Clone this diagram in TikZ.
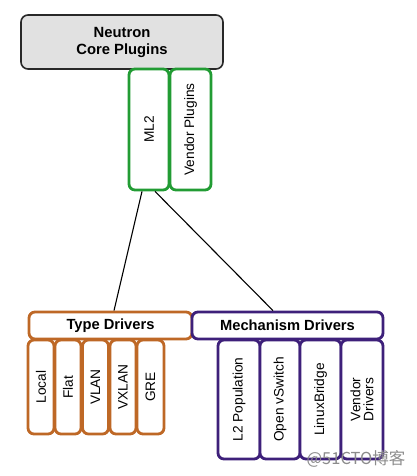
\documentclass[tikz,border=0pt]{standalone}
\usepackage{fontspec}
\setmainfont{Liberation Sans}
\newfontfamily\cjk{Noto Sans CJK SC}
\usetikzlibrary{calc}
\definecolor{mlgreen}{RGB}{34,156,52}
\definecolor{tdorange}{RGB}{190,104,38}
\definecolor{mdpurple}{RGB}{62,32,122}
\definecolor{corefill}{RGB}{225,225,225}
\definecolor{coreline}{RGB}{40,40,40}
\definecolor{wmgray}{RGB}{140,140,140}
\tikzset{
  box/.style={draw, line width=2.8pt, rounded corners=6pt, inner sep=0pt, fill=white,
    font=\fontsize{13.7}{15.5}\selectfont, align=center},
  gbox/.style={box, draw=mlgreen},
  obox/.style={box, draw=tdorange},
  pbox/.style={box, draw=mdpurple},
  head/.style={font=\fontsize{14.7}{16}\selectfont\bfseries},
  link/.style={draw=black, line width=1.1pt},
}
\begin{document}
\begin{tikzpicture}[x=1pt,y=1pt]
\useasboundingbox (0,0) rectangle (416,-476);
% core
\node[draw=coreline, line width=1.6pt, fill=corefill, rounded corners=7pt,
  minimum width=202, minimum height=54, inner sep=0pt, align=center,
  font=\fontsize{14.8}{17}\selectfont\bfseries] (core) at (122,-42) {Neutron\\Core Plugins};
% plugins
\node[gbox, minimum width=40, minimum height=121] (ml2) at (149,-129.5) {\rotatebox{90}{ML2}};
\node[gbox, minimum width=41, minimum height=121] (vplug) at (190.5,-129.5) {\rotatebox{90}{Vendor Plugins}};
% headers
\node[obox, head, minimum width=163, minimum height=27] (type) at (110.5,-325.5) {Type Drivers};
\node[pbox, head, minimum width=191, minimum height=27] (mech) at (287.5,-325.5) {Mechanism Drivers};
% type drivers
\node[obox, minimum width=26, minimum height=94] (local) at (41,-387) {\rotatebox{90}{Local}};
\node[obox, minimum width=26, minimum height=94] (flat) at (68,-387) {\rotatebox{90}{Flat}};
\node[obox, minimum width=26, minimum height=94] (vlan) at (95.5,-387) {\rotatebox{90}{VLAN}};
\node[obox, minimum width=26, minimum height=94] (vxlan) at (123,-387) {\rotatebox{90}{VXLAN}};
\node[obox, minimum width=27, minimum height=94] (gre) at (150.5,-387) {\rotatebox{90}{GRE}};
% mechanism drivers
\node[pbox, minimum width=42, minimum height=119] (l2pop) at (239,-399.5) {\rotatebox{90}{L2 Population}};
\node[pbox, minimum width=40, minimum height=119] (ovs) at (280,-399.5) {\rotatebox{90}{Open vSwitch}};
\node[pbox, minimum width=41, minimum height=119] (lb) at (320.5,-399.5) {\rotatebox{90}{LinuxBridge}};
\node[pbox, minimum width=42, minimum height=119] (vdrv) at (362,-399.5) {\rotatebox{90}{\shortstack{Vendor\\Drivers}}};
% connectors
\draw[link] ($(ml2.south)+(-7,0)$) -- ($(type.north)+(3.5,0)$);
\draw[link] ($(ml2.south)+(6,0)$) -- ($(mech.north)+(-14.5,0)$);
% watermark
\node[text=wmgray, font=\cjk\fontsize{16.5}{18}\selectfont, inner sep=0pt] (wm) at (356,-459) {@51CTO博客};
\end{tikzpicture}
\end{document}
